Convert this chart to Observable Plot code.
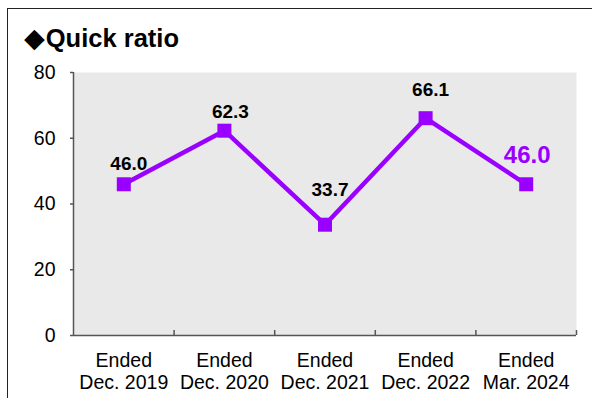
<!DOCTYPE html>
<html>
<head>
<meta charset="utf-8">
<script src="https://cdn.jsdelivr.net/npm/d3@7"></script>
<script src="https://cdn.jsdelivr.net/npm/@observablehq/plot@0.6"></script>
<style>
  html, body { margin: 0; padding: 0; background: #fff; }
  #chart {
    position: relative;
    width: 592px;
    height: 398px;
    overflow: hidden;
    font-family: "Liberation Sans", Arial, sans-serif;
  }
  #frame {
    position: absolute;
    left: 7px;
    top: 8px;
    right: -10px;
    bottom: -10px;
    border-top: 1.5px solid #222;
    border-left: 1.5px solid #222;
    pointer-events: none;
  }
  #title {
    position: absolute;
    left: 24px;
    top: 23px;
    font-size: 25.5px;
    font-weight: bold;
    line-height: 30px;
    color: #000;
    white-space: nowrap;
  }
  #title .mark { font-family: "DejaVu Sans", sans-serif; font-size: 27px; margin-right: 1px; }
  #chart svg { position: absolute; left: 0; top: 0; }
</style>
</head>
<body>
<div id="chart">
  <div id="frame"></div>
  <div id="title"><span class="mark">◆</span>Quick ratio</div>
</div>
<script>
// Quick ratio by period
const periods = ["Ended\nDec. 2019", "Ended\nDec. 2020", "Ended\nDec. 2021", "Ended\nDec. 2022", "Ended\nMar. 2024"];
const ratios = [46.0, 62.3, 33.7, 66.1, 46.0];
const yTicks = [0, 20, 40, 60, 80];

// label placement relative to each marker (pixels)
const labelDx = [5, 6, 5, 5, 1];
const labelDy = [-14, -13, -29, -22, -21];

const purple = "#9900ff";
const axisColor = "#555";

const data = ratios.map((value, i) => ({i, period: periods[i], value}));
const positions = periods.map((_, i) => i);
const boundaries = d3.range(periods.length + 1).map(i => i - 0.5);

const labelMarks = data.map((d, k) => {
  const last = k === data.length - 1;
  return Plot.text([d], {
    x: "i",
    y: "value",
    text: d => d.value.toFixed(1),
    dx: labelDx[k],
    dy: labelDy[k],
    lineAnchor: "bottom",
    fontSize: last ? 24 : 19,
    fontWeight: "bold",
    fill: last ? purple : "#000"
  });
});

const chart = Plot.plot({
  width: 592,
  height: 398,
  marginLeft: 73,
  marginRight: 16,
  marginTop: 72,
  marginBottom: 63,
  style: {fontFamily: "'Liberation Sans', Arial, sans-serif", background: "transparent", overflow: "visible"},
  x: {type: "linear", domain: [-0.5, periods.length - 0.5]},
  y: {domain: [0, 80]},
  marks: [
    Plot.frame({fill: "#e9e9e9", stroke: null}),
    Plot.axisY({
      ticks: yTicks,
      tickSize: 3,
      tickPadding: 15,
      fontSize: 19.5,
      stroke: axisColor,
      strokeWidth: 1.5,
      fill: "#000",
      label: null
    }),
    Plot.axisX({
      ticks: positions,
      tickFormat: i => periods[i],
      tickSize: 0,
      tickPadding: 15.5,
      fontSize: 19.5,
      lineHeight: 1.14,
      fill: "#000",
      label: null
    }),
    Plot.ruleX([boundaries[0]], {stroke: axisColor, strokeWidth: 1.5}),
    Plot.ruleY([0], {stroke: axisColor, strokeWidth: 1.5}),
    Plot.ruleX(boundaries.slice(1), {y1: 0, y2: 0, insetBottom: 5, stroke: axisColor, strokeWidth: 1.5}),
    Plot.line(data, {x: "i", y: "value", stroke: purple, strokeWidth: 4.5, strokeLinejoin: "miter"}),
    Plot.dot(data, {x: "i", y: "value", symbol: "square", r: 7.9, fill: purple, stroke: null}),
    ...labelMarks
  ]
});

document.getElementById("chart").insertBefore(chart, document.getElementById("frame"));
</script>
</body>
</html>
